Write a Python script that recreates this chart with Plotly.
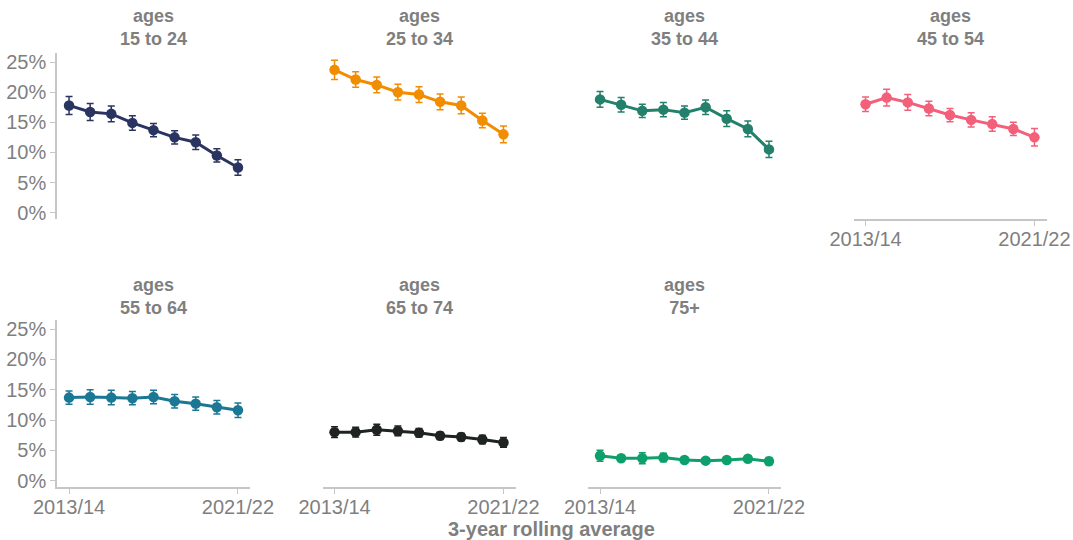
import plotly.graph_objects as go

periods = ["2013/14", "2014/15", "2015/16", "2016/17", "2017/18",
           "2018/19", "2019/20", "2020/21", "2021/22"]
x_ticks = ["2013/14", "2021/22"]
y_ticks = [0, 5, 10, 15, 20, 25]
y_tick_text = ["0%", "5%", "10%", "15%", "20%", "25%"]

groups = ["15 to 24", "25 to 34", "35 to 44", "45 to 54",
          "55 to 64", "65 to 74", "75+"]
colors = ["#2a3461", "#f28c00", "#23806b", "#f2607a",
          "#1b7895", "#1f2422", "#0ea06c"]

v_15_24 = [17.8, 16.7, 16.4, 14.9, 13.7, 12.5, 11.7, 9.5, 7.5]
e_15_24 = [1.5, 1.4, 1.3, 1.2, 1.1, 1.1, 1.2, 1.1, 1.3]
v_25_34 = [23.7, 22.1, 21.2, 20.0, 19.6, 18.4, 17.8, 15.3, 13.0]
e_25_34 = [1.6, 1.3, 1.3, 1.3, 1.3, 1.3, 1.4, 1.2, 1.4]
v_35_44 = [18.8, 17.9, 16.9, 17.1, 16.6, 17.5, 15.6, 13.9, 10.5]
e_35_44 = [1.3, 1.2, 1.1, 1.2, 1.1, 1.2, 1.3, 1.3, 1.35]
v_45_54 = [18.0, 19.1, 18.3, 17.3, 16.2, 15.4, 14.7, 13.9, 12.5]
e_45_54 = [1.2, 1.4, 1.3, 1.2, 1.1, 1.2, 1.2, 1.1, 1.45]
v_55_64 = [13.7, 13.8, 13.7, 13.6, 13.8, 13.1, 12.7, 12.1, 11.6]
e_55_64 = [1.1, 1.2, 1.2, 1.1, 1.1, 1.1, 1.1, 1.1, 1.2]
v_65_74 = [8.0, 8.0, 8.4, 8.2, 7.9, 7.4, 7.2, 6.8, 6.3]
e_65_74 = [0.9, 0.8, 0.9, 0.8, 0.7, 0.6, 0.6, 0.7, 0.8]
v_75p = [4.1, 3.7, 3.7, 3.8, 3.4, 3.3, 3.4, 3.6, 3.2]
e_75p = [0.9, 0.5, 0.9, 0.7, 0.5, 0.4, 0.4, 0.5, 0.6]

values = [v_15_24, v_25_34, v_35_44, v_45_54, v_55_64, v_65_74, v_75p]
errors = [e_15_24, e_25_34, e_35_44, e_45_54, e_55_64, e_65_74, e_75p]

W, H = 1073, 540
FONT = "Liberation Sans, Arial, sans-serif"
GREY_TXT = "#7f7f7f"
AXIS_COL = "#c6c6c6"

# panel geometry in pixels
col_left = [57 + 265.5 * c for c in range(4)]
panel_w = 193
row_top = [53, 320]
row_bot = [219, 487]

fig = go.Figure()
layout = {}
for i, g in enumerate(groups):
    r, c = divmod(i, 4)
    n = i + 1
    xa = "xaxis" if n == 1 else f"xaxis{n}"
    ya = "yaxis" if n == 1 else f"yaxis{n}"
    xr = "x" if n == 1 else f"x{n}"
    yr = "y" if n == 1 else f"y{n}"
    fig.add_trace(go.Scatter(
        x=periods, y=values[i], xaxis=xr, yaxis=yr,
        mode="lines+markers",
        line=dict(color=colors[i], width=3),
        marker=dict(color=colors[i], size=10.5),
        error_y=dict(type="data", array=errors[i], color=colors[i],
                     thickness=1.5, width=3.5),
        showlegend=False, hoverinfo="skip",
    ))
    show_x = (i >= 3)
    show_y = (c == 0)
    x0 = col_left[c] / W
    x1 = (col_left[c] + panel_w) / W
    y0 = 1 - row_bot[r] / H
    y1 = 1 - row_top[r] / H
    layout[xa] = dict(
        domain=[x0, x1], anchor=yr, type="category",
        categoryorder="array", categoryarray=periods,
        range=[-0.57, 8.57], showgrid=False, zeroline=False,
        showline=show_x, linecolor=AXIS_COL, linewidth=1.5,
        ticks="outside" if show_x else "", ticklen=5, tickcolor=AXIS_COL,
        tickwidth=1.2, ticklabelstandoff=-4,
        tickmode="array", tickvals=x_ticks, ticktext=x_ticks,
        showticklabels=show_x, automargin=False,
        tickfont=dict(family=FONT, size=20, color=GREY_TXT),
        fixedrange=True,
    )
    layout[ya] = dict(
        domain=[y0, y1], anchor=xr, range=[-1.05, 26.5],
        showgrid=False, zeroline=False,
        showline=show_y, linecolor=AXIS_COL, linewidth=1.5,
        ticks="outside" if show_y else "", ticklen=5, tickcolor=AXIS_COL,
        tickwidth=1.2,
        tickmode="array", tickvals=y_ticks, ticktext=y_tick_text,
        showticklabels=show_y, automargin=False,
        tickfont=dict(family=FONT, size=20, color=GREY_TXT),
        fixedrange=True,
    )

annotations = []
title_center_y = [28, 296]
for i, g in enumerate(groups):
    r, c = divmod(i, 4)
    annotations.append(dict(
        text=f"<b>ages</b><br><b>{g}</b>", xref="paper", yref="paper",
        x=(col_left[c] + panel_w / 2) / W, y=1 - title_center_y[r] / H,
        xanchor="center", yanchor="middle", showarrow=False,
        font=dict(family=FONT, size=18, color=GREY_TXT),
    ))
annotations.append(dict(
    text="<b>3-year rolling average</b>", xref="paper", yref="paper",
    x=(col_left[0] + col_left[3] + panel_w) / 2 / W, y=1 - 529 / H,
    xanchor="center", yanchor="middle", showarrow=False,
    font=dict(family=FONT, size=20, color=GREY_TXT),
))

fig.update_layout(
    width=W, height=H,
    margin=dict(l=0, r=0, t=0, b=0, autoexpand=False),
    paper_bgcolor="white", plot_bgcolor="white",
    annotations=annotations,
    **layout,
)

fig.write_html(
    "out.html",
    config={"displayModeBar": False},
    post_script="document.body.style.margin='0';document.body.style.padding='0';document.body.style.overflow='hidden';",
)
